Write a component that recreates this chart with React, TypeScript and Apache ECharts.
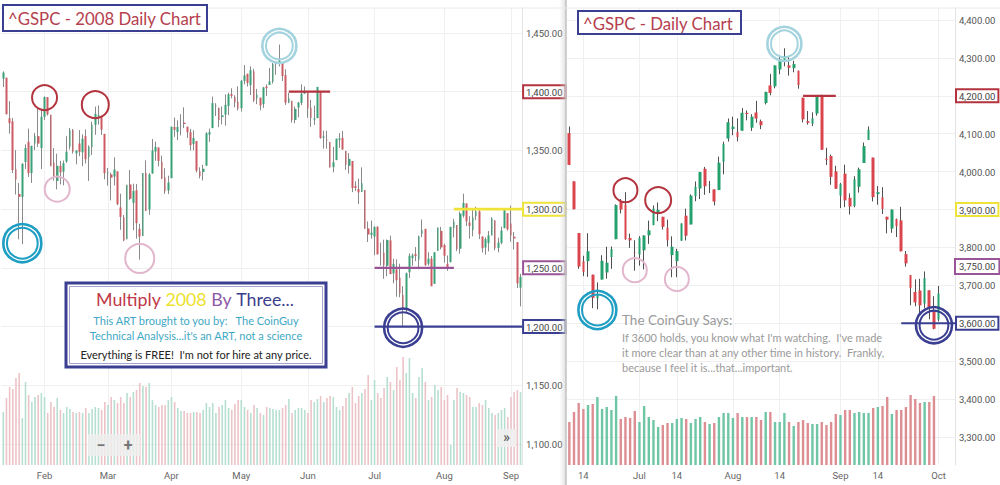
import React, { useEffect, useRef } from "react";
import * as echarts from "echarts";

// ---------------- LEFT: ^GSPC 2008 daily (Jan 14 – Sep 5) ----------------
const leftDates = [
  "01-14","01-15","01-16","01-17","01-18","01-22","01-23","01-24","01-25","01-28","01-29","01-30","01-31",
  "02-01","02-04","02-05","02-06","02-07","02-08","02-11","02-12","02-13","02-14","02-15","02-19","02-20","02-21","02-22","02-25","02-26","02-27","02-28","02-29",
  "03-03","03-04","03-05","03-06","03-07","03-10","03-11","03-12","03-13","03-14","03-17","03-18","03-19","03-20","03-24","03-25","03-26","03-27","03-28","03-31",
  "04-01","04-02","04-03","04-04","04-07","04-08","04-09","04-10","04-11","04-14","04-15","04-16","04-17","04-18","04-21","04-22","04-23","04-24","04-25","04-28","04-29","04-30",
  "05-01","05-02","05-05","05-06","05-07","05-08","05-09","05-12","05-13","05-14","05-15","05-16","05-19","05-20","05-21","05-22","05-23","05-27","05-28","05-29","05-30",
  "06-02","06-03","06-04","06-05","06-06","06-09","06-10","06-11","06-12","06-13","06-16","06-17","06-18","06-19","06-20","06-23","06-24","06-25","06-26","06-27","06-30",
  "07-01","07-02","07-03","07-07","07-08","07-09","07-10","07-11","07-14","07-15","07-16","07-17","07-18","07-21","07-22","07-23","07-24","07-25","07-28","07-29","07-30","07-31",
  "08-01","08-04","08-05","08-06","08-07","08-08","08-11","08-12","08-13","08-14","08-15","08-18","08-19","08-20","08-21","08-22","08-25","08-26","08-27","08-28","08-29",
  "09-02","09-03","09-04","09-05",
];
// [open, high, low, close]
const leftOHLC = [
  [1411.1,1417.3,1404.0,1416.3],[1411.9,1411.9,1380.6,1380.9],[1377.4,1392.0,1364.3,1373.2],[1374.8,1377.7,1330.7,1333.3],
  [1333.9,1350.3,1312.5,1325.2],[1312.9,1322.3,1274.3,1310.5],[1310.4,1339.1,1270.1,1338.6],[1340.1,1355.2,1334.3,1352.1],
  [1357.3,1368.6,1327.5,1330.6],[1330.7,1354.0,1322.3,1353.9],[1355.9,1364.9,1350.3,1362.3],[1362.2,1385.9,1353.0,1355.8],
  [1352.0,1385.6,1334.1,1378.6],[1378.6,1396.0,1375.9,1395.4],[1395.4,1395.4,1379.7,1380.8],[1380.3,1380.3,1336.6,1336.6],
  [1339.5,1352.0,1324.3,1326.5],[1324.0,1347.2,1316.8,1336.9],[1336.9,1341.2,1321.1,1331.3],[1331.9,1341.4,1320.3,1339.1],
  [1340.6,1362.1,1339.4,1348.9],[1353.1,1369.2,1350.8,1367.2],[1367.3,1368.2,1347.3,1348.9],[1347.5,1350.0,1338.1,1350.0],
  [1355.9,1367.3,1345.1,1348.8],[1348.4,1363.7,1336.6,1360.0],[1362.2,1367.9,1339.0,1342.5],[1344.2,1354.3,1324.0,1353.1],
  [1352.8,1374.4,1346.0,1371.8],[1371.8,1387.3,1363.3,1381.3],[1379.0,1388.3,1372.0,1380.0],[1378.2,1378.2,1363.2,1367.7],
  [1364.1,1364.1,1325.4,1330.6],[1330.5,1335.1,1320.0,1331.3],[1329.6,1331.0,1307.4,1326.8],[1327.7,1344.2,1320.2,1333.7],
  [1332.2,1332.2,1303.4,1304.3],[1301.5,1313.2,1282.4,1293.4],[1293.2,1295.0,1272.7,1273.4],[1274.4,1320.7,1274.4,1320.7],
  [1321.1,1333.3,1307.9,1308.8],[1305.3,1321.7,1282.1,1315.5],[1316.1,1321.5,1274.9,1288.1],[1283.2,1287.5,1257.0,1276.6],
  [1277.2,1330.7,1277.2,1330.7],[1331.0,1341.5,1298.4,1298.4],[1299.7,1330.7,1295.2,1329.5],[1330.3,1359.7,1330.3,1349.9],
  [1349.1,1357.5,1341.2,1353.0],[1352.5,1352.5,1336.4,1341.1],[1340.3,1345.6,1325.7,1325.8],[1327.0,1334.9,1313.0,1315.2],
  [1315.9,1328.5,1312.8,1322.7],[1326.4,1370.2,1326.4,1370.2],[1370.0,1378.0,1361.6,1367.5],[1365.7,1375.7,1358.7,1370.0],
  [1369.9,1380.9,1362.8,1370.4],[1373.7,1386.7,1369.0,1372.5],[1370.2,1370.2,1360.6,1365.5],[1365.5,1368.4,1350.0,1354.5],
  [1355.4,1367.2,1350.1,1360.6],[1358.0,1358.0,1331.2,1332.8],[1332.2,1335.6,1326.2,1328.3],[1331.7,1337.7,1324.4,1334.4],
  [1337.0,1365.5,1337.0,1364.7],[1363.4,1368.6,1357.3,1365.6],[1369.0,1395.9,1369.0,1390.3],[1387.7,1390.2,1379.3,1388.2],
  [1386.4,1386.4,1369.8,1375.9],[1378.4,1387.4,1372.2,1379.9],[1380.5,1397.7,1371.1,1388.8],[1387.9,1399.1,1380.0,1397.8],
  [1398.0,1402.9,1394.4,1396.4],[1395.6,1397.0,1386.7,1390.9],[1391.2,1404.6,1384.0,1385.6],[1386.0,1410.1,1383.1,1409.3],
  [1409.2,1422.7,1406.3,1413.9],[1415.3,1415.3,1404.4,1407.5],[1405.6,1421.6,1397.1,1418.3],[1417.5,1419.5,1391.2,1392.6],
  [1394.3,1402.4,1389.4,1397.7],[1394.9,1394.9,1384.1,1388.3],[1389.4,1404.1,1386.2,1403.6],[1404.4,1406.3,1396.3,1403.0],
  [1405.7,1420.2,1405.7,1408.7],[1408.4,1424.4,1406.9,1423.6],[1423.9,1425.8,1414.4,1425.4],[1425.3,1440.2,1421.6,1426.6],
  [1424.5,1424.5,1409.1,1413.4],[1414.1,1419.1,1388.8,1390.7],[1390.8,1399.1,1390.2,1394.4],[1392.2,1392.2,1373.7,1375.9],
  [1376.0,1387.4,1373.1,1385.4],[1386.5,1391.3,1378.2,1390.8],[1390.5,1406.3,1388.6,1398.3],[1398.4,1404.5,1398.1,1400.4],
  [1399.6,1399.6,1377.8,1385.7],[1386.4,1393.1,1370.1,1377.7],[1376.3,1388.2,1371.7,1377.2],[1377.5,1404.1,1377.5,1404.1],
  [1400.1,1400.1,1359.9,1360.7],[1360.8,1366.8,1351.5,1361.8],[1359.0,1366.8,1351.5,1358.4],[1357.1,1357.1,1335.5,1335.5],
  [1335.8,1353.0,1331.3,1339.9],[1341.8,1360.0,1341.7,1360.0],[1358.9,1364.7,1352.1,1360.1],[1360.7,1366.6,1350.5,1350.9],
  [1349.6,1349.6,1333.4,1337.8],[1336.9,1347.7,1330.4,1342.8],[1341.0,1341.0,1314.5,1317.9],[1319.8,1323.8,1315.4,1318.0],
  [1317.2,1326.0,1304.4,1314.3],[1314.5,1335.6,1314.5,1322.0],[1316.3,1316.3,1283.2,1283.2],[1283.6,1289.5,1272.0,1278.4],
  [1278.1,1290.3,1274.9,1280.0],[1276.7,1285.3,1260.7,1284.9],[1285.0,1285.4,1261.5,1261.5],[1263.0,1271.5,1252.0,1262.9],
  [1262.9,1274.0,1240.7,1252.3],[1251.8,1274.2,1242.8,1273.7],[1273.4,1277.4,1244.6,1244.7],[1245.3,1257.7,1236.8,1253.4],
  [1248.7,1257.2,1225.4,1239.5],[1241.6,1253.5,1225.0,1228.3],[1226.8,1234.4,1200.4,1214.9],[1214.7,1246.0,1211.4,1245.4],
  [1246.3,1262.3,1241.4,1260.3],[1258.2,1262.2,1251.8,1260.7],[1261.8,1267.7,1255.7,1260.0],[1257.1,1277.4,1248.8,1277.0],
  [1278.9,1291.2,1276.1,1282.2],[1283.2,1283.2,1251.5,1252.5],[1253.5,1263.2,1251.8,1257.8],[1257.8,1260.1,1234.4,1234.4],
  [1236.4,1263.2,1236.4,1263.2],[1264.5,1284.3,1264.5,1284.3],[1281.4,1284.9,1265.7,1267.4],[1269.4,1270.5,1254.5,1260.3],
  [1253.3,1260.5,1247.5,1249.0],[1254.9,1284.9,1254.7,1284.9],[1284.0,1291.7,1276.0,1289.2],[1286.5,1286.5,1264.3,1266.1],
  [1266.3,1297.9,1262.1,1296.3],[1294.4,1313.2,1292.8,1305.3],[1304.8,1304.8,1285.6,1289.6],[1288.6,1294.0,1274.9,1285.8],
  [1282.1,1300.1,1276.8,1292.9],[1293.9,1302.1,1290.7,1298.2],[1298.1,1300.2,1274.5,1278.6],[1276.7,1276.7,1263.1,1266.7],
  [1267.3,1276.0,1261.2,1274.5],[1271.1,1281.4,1264.0,1277.7],[1277.6,1293.1,1277.6,1292.2],[1290.5,1290.5,1264.9,1266.8],
  [1267.0,1275.7,1263.2,1271.5],[1271.3,1285.1,1270.0,1281.7],[1283.8,1300.7,1283.8,1300.7],[1296.5,1296.5,1281.7,1282.8],
  [1287.8,1303.0,1272.2,1277.6],[1276.6,1280.6,1265.6,1275.0],[1271.8,1271.8,1232.8,1236.8],[1233.2,1244.9,1217.2,1242.3],
];
// relative volume
const leftVolume = [
  53,67,78,76,87,92,47,83,70,63, 68,70,72,68,52,63,58,67,55,52, 58,56,53,52,53,52,57,52,56,58,
  57,55,63,60,68,65,62,68,62,72, 68,73,75,82,79,78,82,65,60,58, 60,60,65,68,63,57,54,54,52,52,
  53,53,52,55,62,58,62,52,58,60, 65,57,55,61,65,65,58,55,52,60, 57,52,50,58,57,56,55,55,
  57,60,66,52,55,57,57,55,52,65, 63,66,69,63,67,69,68,58,55,59, 67,72,78,62,69,72,76,90,65,85,
  72,67,77,88,83,75,98,85,108,92, 107,72,67,88,97,83,65,68,80,75, 78,65,70,20,65,77,73,72,70,68,
  58,58,62,60,65,57,52,50,52,55, 57,48,68,73,75,73,
];
const leftTickDates = ["02-01","03-03","04-01","05-01","06-02","07-01","08-01","09-02"];
const leftTickLabels = ["Feb","Mar","Apr","May","Jun","Jul","Aug","Sep"];
const leftPriceMin = 1100;
const leftPriceMax = 1450;
const leftPriceStep = 50;
const leftBoxedLevels = [[1400, "red"], [1300, "yellow"], [1250, "purple"], [1200, "navy"]];

// ---------------- RIGHT: ^GSPC daily (Jun 9 – Oct 3, 2022) ----------------
const rightDates = [
  "06-09","06-10","06-13","06-14","06-15","06-16","06-17","06-21","06-22","06-23","06-24","06-27","06-28","06-29","06-30",
  "07-01","07-05","07-06","07-07","07-08","07-11","07-12","07-13","07-14","07-15","07-18","07-19","07-20","07-21","07-22","07-25","07-26","07-27","07-28","07-29",
  "08-01","08-02","08-03","08-04","08-05","08-08","08-09","08-10","08-11","08-12","08-15","08-16","08-17","08-18","08-19","08-22","08-23","08-24","08-25","08-26","08-29","08-30","08-31",
  "09-01","09-02","09-06","09-07","09-08","09-09","09-12","09-13","09-14","09-15","09-16","09-19","09-20","09-21","09-22","09-23","09-26","09-27","09-28","09-29","09-30",
  "10-03",
];
const rightPadSlots = ["pad1", "pad2", "pad3"];
const rightOHLC = [
  [4101.7,4119.1,4017.2,4017.8],[3974.4,3974.4,3900.2,3900.9],[3838.2,3838.2,3743.5,3749.6],[3763.5,3778.2,3724.3,3735.5],
  [3764.1,3837.6,3722.3,3790.0],[3728.2,3728.2,3639.8,3666.8],[3665.9,3707.7,3636.9,3674.8],[3715.3,3779.7,3715.3,3764.8],
  [3733.9,3801.8,3717.7,3759.9],[3774.7,3802.6,3743.5,3795.7],[3821.8,3913.7,3821.8,3911.7],[3920.8,3927.7,3889.7,3900.1],
  [3913.0,3945.9,3820.1,3821.6],[3825.1,3836.5,3799.0,3818.8],[3786.0,3819.0,3738.7,3785.4],[3781.0,3829.8,3752.1,3825.3],
  [3792.6,3832.2,3742.1,3831.4],[3832.0,3870.9,3809.4,3845.1],[3858.9,3910.6,3858.9,3902.6],[3888.3,3918.5,3869.3,3899.4],
  [3880.9,3880.9,3847.2,3854.4],[3852.0,3873.4,3802.4,3818.8],[3779.7,3829.4,3721.6,3801.8],[3764.0,3796.4,3721.6,3790.4],
  [3818.0,3863.6,3817.2,3863.2],[3883.8,3902.4,3818.6,3830.9],[3860.7,3939.8,3860.7,3936.7],[3935.3,3974.1,3922.0,3959.9],
  [3955.5,3999.3,3927.6,3999.0],[4007.5,4012.4,3938.9,3961.6],[3965.7,3975.3,3943.5,3966.8],[3953.2,3953.2,3910.7,3921.1],
  [3951.4,4039.6,3951.4,4023.6],[4026.1,4079.0,3993.0,4072.4],[4087.3,4140.2,4079.2,4130.3],[4112.4,4145.0,4096.0,4118.6],
  [4104.2,4140.5,4079.8,4091.2],[4108.0,4167.7,4108.0,4155.2],[4154.9,4161.3,4135.4,4151.9],[4115.9,4151.6,4107.3,4145.2],
  [4155.9,4186.6,4129.0,4140.1],[4133.1,4137.3,4112.1,4122.5],[4181.0,4211.0,4177.3,4210.2],[4227.4,4257.9,4201.4,4207.3],
  [4225.0,4280.5,4219.8,4280.2],[4269.4,4301.8,4256.9,4297.1],[4290.5,4325.3,4277.8,4305.2],[4280.4,4302.2,4253.1,4274.0],
  [4273.1,4292.5,4262.0,4283.7],[4266.3,4266.3,4218.7,4228.5],[4195.1,4195.1,4129.9,4138.0],[4133.1,4159.8,4124.0,4128.7],
  [4126.6,4156.6,4120.0,4140.8],[4153.3,4200.5,4147.6,4199.1],[4198.7,4203.0,4057.7,4057.7],[4034.6,4063.0,4017.4,4030.6],
  [4041.3,4045.0,3965.2,3986.2],[4000.7,4015.4,3954.5,3955.0],[3936.7,3970.2,3903.7,3966.9],[3994.7,4018.4,3906.2,3924.3],
  [3930.9,3942.6,3886.8,3908.2],[3909.4,3987.9,3906.0,3979.9],[3959.9,4010.5,3944.8,4006.2],[4022.9,4076.8,4022.9,4067.4],
  [4083.7,4119.3,4083.7,4110.4],[4037.1,4037.1,3921.4,3932.7],[3940.7,3961.9,3912.7,3946.0],[3932.4,3959.1,3888.3,3901.4],
  [3881.0,3881.0,3837.1,3873.3],[3849.9,3900.5,3838.5,3899.9],[3875.2,3876.0,3827.5,3855.9],[3871.4,3907.1,3789.5,3789.9],
  [3782.4,3790.7,3749.5,3758.0],[3727.1,3727.1,3647.5,3693.2],[3682.7,3715.7,3644.8,3655.0],[3686.4,3717.5,3623.8,3647.3],
  [3651.9,3736.7,3640.6,3719.0],[3687.0,3687.0,3610.4,3640.5],[3633.5,3671.4,3584.1,3585.6],[3609.8,3698.4,3604.9,3678.4],
];
const rightVolume = [
  43,53,62,56,60,61,68,56,58,55, 69,46,48,47,54,43,59,48,45,38, 40,42,42,46,47,46,42,46,48,43,
  41,42,48,52,52,47,52,48,48,48, 48,45,53,53,43,43,
  52,43,39,43,45,42,41,41,43,40, 43,51,50,55,55,52,53,52,52,57, 58,59,68,51,55,55,58,70,66,62, 63,63,69,
  null,
];
const rightTickDates = ["06-14","07-01","07-14","08-01","08-15","09-01","09-14","10-03"];
const rightTickLabels = ["14","Jul","14","Aug","14","Sep","14","Oct"];
const rightPriceMin = 3300;
const rightPriceMax = 4400;
const rightPriceStep = 100;
const rightBoxedLevels = [[4200, "red"], [3900, "yellow"], [3600, "navy"]];
const rightExtraBoxedLevels = [[3750, "purple"]];

// ---------------- Annotations (date, price) ----------------
const leftCircles = [
  { date: "01-23", price: 1271, r: 19, kind: "blue" },
  { date: "02-01", price: 1395, r: 12.5, kind: "red" },
  { date: "02-26", price: 1389, r: 13.5, kind: "red" },
  { date: "02-07", price: 1317, r: 12.5, kind: "pink" },
  { date: "03-17", price: 1258, r: 14.5, kind: "pink" },
  { date: "05-19", price: 1439, r: 17, kind: "sky" },
  { date: "07-15", price: 1199, r: 19, kind: "navy" },
];
const rightCircles = [
  { date: "06-17", price: 3635, r: 19, kind: "blue" },
  { date: "06-28", price: 3951, r: 12, kind: "red" },
  { date: "07-08", price: 3925, r: 13, kind: "red" },
  { date: "06-30", price: 3740, r: 12, kind: "pink" },
  { date: "07-14", price: 3717, r: 12, kind: "pink" },
  { date: "08-16", price: 4337, r: 17, kind: "sky" },
  { date: "09-30", price: 3595, r: 18, kind: "navy" },
];
const leftLevelLines = [
  { from: "05-22", to: "06-11", price: 1400, kind: "red" },
  { from: "07-01", to: "08-06", price: 1250, kind: "purple" },
  { from: "08-06", to: null, price: 1300, kind: "yellow" },
  { from: "07-01", to: null, price: 1200, kind: "navy" },
];
const rightLevelLines = [
  { from: "08-22", to: "08-31", price: 4200, kind: "red" },
  { from: "09-21", to: null, price: 3600, kind: "navy" },
];

// ---------------- styling ----------------
const C = {
  red: "#b3343f",
  yellow: "#efe33a",
  purple: "#9a5598",
  navy: "#3b3f92",
  blue: "#1f9ec3",
  sky: "#a3d3de",
  pink: "#e2b6cd",
};
const L_LEFT = 1.7, L_WIDTH = 520.4;
const R_LEFT = 567, R_WIDTH = 388;
const AXIS_FONT = "Roboto";

const fmt = (v: number) =>
  v.toLocaleString("en-US", { minimumFractionDigits: 2, maximumFractionDigits: 2 });

const boxRich = (color: string) => ({
  padding: [2, 3, 1, 3],
  borderColor: color,
  borderWidth: 2,
  color: "#444",
  fontSize: 9.5,
  fontFamily: AXIS_FONT,
});
const rich = {
  n: { padding: [2, 3, 1, 3], color: "#555", fontSize: 9.5, fontFamily: AXIS_FONT },
  red: boxRich(C.red),
  yellow: boxRich(C.yellow),
  purple: boxRich(C.purple),
  navy: boxRich(C.navy),
};

function priceAxis(grid: number, min: number, max: number, step: number, boxes: any[]) {
  return {
    type: "value",
    gridIndex: grid,
    position: "right",
    min,
    max,
    interval: step,
    axisLine: { show: false },
    axisTick: { show: false },
    splitLine: { show: true, lineStyle: { color: "#efefef", width: 1 } },
    axisLabel: {
      margin: 1,
      formatter: (v: number) => {
        const b = boxes.find((x) => x[0] === v);
        return b ? `{${b[1]}|${fmt(v)}}` : `{n|${fmt(v)}}`;
      },
      rich,
    },
  };
}

function timeAxis(grid: number, cats: string[], tickDates: string[], tickLabels: string[], showLabels: boolean) {
  const idxSet = new Set(tickDates.map((d) => cats.indexOf(d)));
  const labelOf: Record<string, string> = {};
  tickDates.forEach((d, i) => (labelOf[d] = tickLabels[i]));
  const pick = (idx: number) => idxSet.has(idx);
  return {
    type: "category",
    gridIndex: grid,
    data: cats,
    boundaryGap: true,
    axisLine: { show: false },
    axisTick: { show: false },
    axisLabel: {
      show: showLabels,
      interval: pick,
      formatter: (v: string) => labelOf[v] ?? "",
      color: "#666",
      fontSize: 9.5,
      fontFamily: AXIS_FONT,
      margin: 5,
    },
    splitLine: {
      show: showLabels,
      interval: pick,
      alignWithLabel: true,
      lineStyle: { color: "#f0f0f0", width: 1 },
    },
  };
}

function buildOption() {
  const rightCats = [...rightDates, ...rightPadSlots];
  const wick = (rows: number[][]) => rows.map(([o, h, l, c]) => [o, c, l, h]);
  const body = (rows: number[][]) => rows.map(([o, h, l, c]) => [o, c, Math.min(o, c), Math.max(o, c)]);
  const vol = (rows: number[][], vols: (number | null)[], up: string, down: string) =>
    vols.map((v, i) =>
      v == null ? "-" : { value: v, itemStyle: { color: rows[i][3] >= rows[i][0] ? up : down } }
    );
  const candleStyle = (up: string, down: string) => ({
    color: up, color0: down, borderColor: up, borderColor0: down, borderWidth: 0,
  });
  const wickStyle = (c: string) => ({ color: c, color0: c, borderColor: c, borderColor0: c, borderWidth: 1 });

  return {
    animation: false,
    backgroundColor: "#ffffff",
    grid: [
      { left: L_LEFT, top: 33, width: L_WIDTH, height: 411, outerBoundsMode: "none" },
      { left: L_LEFT, top: 8, width: L_WIDTH, height: 457, outerBoundsMode: "none" },
      { left: R_LEFT, top: 20, width: R_WIDTH, height: 417, outerBoundsMode: "none" },
      { left: R_LEFT, top: 8, width: R_WIDTH, height: 457, outerBoundsMode: "none" },
    ],
    xAxis: [
      timeAxis(0, leftDates, leftTickDates, leftTickLabels, false),
      timeAxis(1, leftDates, leftTickDates, leftTickLabels, true),
      timeAxis(2, rightCats, rightTickDates, rightTickLabels, false),
      timeAxis(3, rightCats, rightTickDates, rightTickLabels, true),
    ],
    yAxis: [
      priceAxis(0, leftPriceMin, leftPriceMax, leftPriceStep, leftBoxedLevels),
      {
        type: "value", gridIndex: 1, position: "right", min: 0, max: 457,
        axisLabel: { show: false }, axisTick: { show: false }, splitLine: { show: false },
        axisLine: { show: true, lineStyle: { color: "#e3e3e3" } },
      },
      priceAxis(2, rightPriceMin, rightPriceMax, rightPriceStep, rightBoxedLevels),
      {
        type: "value", gridIndex: 3, position: "right", min: 0, max: 457,
        axisLabel: { show: false }, axisTick: { show: false }, splitLine: { show: false },
        axisLine: { show: true, lineStyle: { color: "#e3e3e3" } },
      },
    ],
    series: [
      {
        type: "bar", xAxisIndex: 1, yAxisIndex: 1, barWidth: 1.6, z: 1,
        data: vol(leftOHLC, leftVolume, "#b6dfd1", "#ecc3c6"),
      },
      {
        type: "candlestick", xAxisIndex: 0, yAxisIndex: 0, barWidth: 1, z: 3,
        itemStyle: wickStyle("#8a8a8a"), data: wick(leftOHLC),
      },
      {
        type: "candlestick", xAxisIndex: 0, yAxisIndex: 0, barWidth: 2.2, z: 4,
        itemStyle: candleStyle("#3aa077", "#cc5b63"), data: body(leftOHLC),
      },
      {
        type: "bar", xAxisIndex: 3, yAxisIndex: 3, barWidth: 2.4, z: 1,
        data: vol(rightOHLC, rightVolume, "#6fc6a5", "#dc8e93"),
      },
      {
        type: "candlestick", xAxisIndex: 2, yAxisIndex: 2, barWidth: 1, z: 3,
        itemStyle: wickStyle("#505050"), data: wick(rightOHLC),
      },
      {
        type: "candlestick", xAxisIndex: 2, yAxisIndex: 2, barWidth: 3.2, z: 4,
        itemStyle: candleStyle("#23a06c", "#d9444d"), data: body(rightOHLC),
      },
    ],
  };
}

function ringEls(cx: number, cy: number, r: number, kind: string) {
  const color = (C as any)[kind];
  const double = kind === "blue" || kind === "sky" || kind === "navy";
  const els: any[] = [
    { type: "circle", z: 50, shape: { cx, cy, r }, style: { fill: "none", stroke: color, lineWidth: double ? 2.6 : 2 } },
  ];
  if (double) {
    els.push({ type: "circle", z: 50, shape: { cx, cy, r: r - 3.6 }, style: { fill: "none", stroke: color, lineWidth: 2 } });
  }
  return els;
}

function buildGraphics(chart: any) {
  const els: any[] = [];
  const toPx = (side: "L" | "R", date: string, price: number) =>
    chart.convertToPixel({ xAxisIndex: side === "L" ? 0 : 2, yAxisIndex: side === "L" ? 0 : 2 }, [date, price]);

  // divider between panels
  els.push({
    type: "rect", z: 40, shape: { x: 559, y: 0, width: 7, height: 485 },
    style: { fill: new echarts.graphic.LinearGradient(0, 0, 1, 0, [
      { offset: 0, color: "rgba(220,220,220,0)" }, { offset: 1, color: "rgba(200,200,200,0.6)" },
    ]) },
  });
  els.push({ type: "line", z: 41, shape: { x1: 566, y1: 0, x2: 566, y2: 485 }, style: { stroke: "#c2c2c2", lineWidth: 1.5 } });
  els.push({ type: "line", z: 41, shape: { x1: 0, y1: 8, x2: 1000, y2: 8 }, style: { stroke: "#e8e8e8", lineWidth: 1 } });

  // level lines
  const drawLines = (side: "L" | "R", lines: any[], rightEdge: number) => {
    lines.forEach((ln) => {
      const a = toPx(side, ln.from, ln.price);
      const x2 = ln.to ? toPx(side, ln.to, ln.price)[0] : rightEdge;
      els.push({
        type: "line", z: 45,
        shape: { x1: a[0], y1: a[1], x2, y2: a[1] },
        style: { stroke: (C as any)[ln.kind], lineWidth: ln.kind === "yellow" ? 2.6 : 2.2 },
      });
    });
  };
  drawLines("L", leftLevelLines, L_LEFT + L_WIDTH);
  drawLines("R", rightLevelLines, R_LEFT + R_WIDTH);

  // circles
  leftCircles.forEach((c) => {
    const p = toPx("L", c.date, c.price);
    els.push(...ringEls(p[0], p[1], c.r, c.kind));
  });
  rightCircles.forEach((c) => {
    const p = toPx("R", c.date, c.price);
    els.push(...ringEls(p[0], p[1], c.r, c.kind));
  });

  // extra boxed price label (not on a regular tick)
  rightExtraBoxedLevels.forEach(([lvl, kind]) => {
    const p = toPx("R", rightDates[0], lvl as number);
    els.push({
      type: "text", z: 60, x: R_LEFT + R_WIDTH + 1, y: p[1],
      style: {
        text: fmt(lvl as number), fill: "#444", font: `9.5px ${AXIS_FONT}`,
        textVerticalAlign: "middle", verticalAlign: "middle",
        padding: [2, 3, 1, 3], borderColor: (C as any)[kind], borderWidth: 2, backgroundColor: "#fff",
      },
    });
  });

  // titles
  els.push({ type: "rect", z: 60, shape: { x: 3, y: 5, width: 204, height: 26 }, style: { fill: "#fff", stroke: C.navy, lineWidth: 2 } });
  els.push({
    type: "text", z: 61, x: 8, y: 18.5,
    style: { text: "^GSPC - 2008 Daily Chart", fill: "#b5404e", font: "16.8px Lato", textVerticalAlign: "middle", verticalAlign: "middle" },
  });
  els.push({ type: "rect", z: 60, shape: { x: 578, y: 11, width: 163, height: 23 }, style: { fill: "#fff", stroke: C.navy, lineWidth: 2 } });
  els.push({
    type: "text", z: 61, x: 583, y: 23,
    style: { text: "^GSPC - Daily Chart", fill: "#b5404e", font: "16.8px Lato", textVerticalAlign: "middle", verticalAlign: "middle" },
  });

  // message box (left)
  els.push({ type: "rect", z: 60, shape: { x: 66, y: 283, width: 260, height: 84 }, style: { fill: "#fff", stroke: C.navy, lineWidth: 3 } });
  els.push({ type: "rect", z: 61, shape: { x: 69.5, y: 286.5, width: 253, height: 77 }, style: { fill: "none", stroke: "#a3a5cf", lineWidth: 1 } });
  const fs1 = 17.8;
  els.push({
    type: "text", z: 62, x: 195, y: 299,
    style: {
      text: "{r|Multiply} {y|2008} {p|By} {n|Three...}",
      font: `${fs1}px Lato`, textAlign: "center", align: "center", textVerticalAlign: "middle", verticalAlign: "middle",
      rich: {
        r: { fill: "#c0384a", color: "#c0384a", fontSize: fs1, fontFamily: "Lato" },
        y: { fill: "#ece12c", color: "#ece12c", fontSize: fs1, fontFamily: "Lato" },
        p: { fill: "#8d5aa6", color: "#8d5aa6", fontSize: fs1, fontFamily: "Lato" },
        n: { fill: "#3a3e8e", color: "#3a3e8e", fontSize: fs1, fontFamily: "Lato" },
      },
    },
  });
  const boxLine = (text: string, y: number, fill: string) => ({
    type: "text", z: 62, x: 196, y,
    style: { text, fill, font: "11px Lato", textAlign: "center", align: "center", textVerticalAlign: "middle", verticalAlign: "middle" },
  });
  els.push(boxLine("This ART brought to you by:\u00a0\u00a0 The CoinGuy", 320, "#3fa8c4"));
  els.push(boxLine("Technical Analysis...it's an ART, not a science", 335, "#3fa8c4"));
  els.push(boxLine("Everything is FREE!\u00a0 I'm not for hire at any price.", 354, "#222"));

  // message (right)
  const gray = "#9a9a9a";
  els.push({ type: "text", z: 62, x: 622, y: 320, style: { text: "The CoinGuy Says:", fill: gray, font: "13.5px Lato", textVerticalAlign: "middle", verticalAlign: "middle" } });
  [
    "If 3600 holds, you know what I'm watching.\u00a0 I've made",
    "it more clear than at any other time in history.\u00a0 Frankly,",
    "because I feel it is...that...important.",
  ].forEach((t, i) =>
    els.push({ type: "text", z: 62, x: 622, y: 337 + i * 15, style: { text: t, fill: gray, font: "11px Lato", textVerticalAlign: "middle", verticalAlign: "middle" } })
  );

  // toolbar widgets
  els.push({ type: "rect", z: 60, shape: { x: 88, y: 434, width: 52, height: 22 }, style: { fill: "rgba(238,238,238,0.85)" } });
  els.push({ type: "text", z: 61, x: 101, y: 445, style: { text: "−", fill: "#777", font: "bold 16px Roboto", textAlign: "center", align: "center", textVerticalAlign: "middle", verticalAlign: "middle" } });
  els.push({ type: "text", z: 61, x: 128, y: 445, style: { text: "+", fill: "#777", font: "bold 16px Roboto", textAlign: "center", align: "center", textVerticalAlign: "middle", verticalAlign: "middle" } });
  els.push({ type: "rect", z: 60, shape: { x: 497, y: 429, width: 19, height: 18 }, style: { fill: "rgba(240,240,240,0.9)" } });
  els.push({ type: "text", z: 61, x: 506.5, y: 437, style: { text: "»", fill: "#555", font: "15px Roboto", textAlign: "center", align: "center", textVerticalAlign: "middle", verticalAlign: "middle" } });

  return els;
}

export default function App() {
  const ref = useRef<HTMLDivElement>(null);
  useEffect(() => {
    const chart = echarts.init(ref.current!, null, { renderer: "svg" });
    chart.setOption(buildOption() as any);
    chart.setOption({ graphic: buildGraphics(chart) } as any);
    return () => chart.dispose();
  }, []);
  return (
    <div
      ref={ref}
      style={{ position: "fixed", left: 0, top: 0, width: 1000, height: 485, background: "#fff" }}
    />
  );
}
